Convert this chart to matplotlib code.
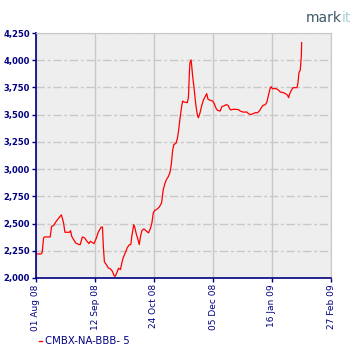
import numpy as np
import pandas as pd
import matplotlib
matplotlib.use("Agg")
import matplotlib.pyplot as plt

# days after 01 Aug 2008, index level
days = [0, 3.7, 4.4, 5.4, 6.1, 10.1, 11.1, 12.5, 14.4, 16.8, 18, 18.7, 19.6, 20.6,
        23.9, 24.6, 25.4, 26.8, 28.2, 30.6, 31.5, 33, 34.6, 36.3, 37.7, 38.7, 40.6,
        41.3, 43, 44.4, 46.3, 47.3, 48, 48.7, 50.1, 51.5, 53, 54.4, 55.6, 56.3, 57.7,
        58.7, 60.1, 61.1, 62, 63.5, 64.9, 66.3, 67.5, 68.2, 69.6, 70.4, 71.5, 72.5,
        73.5, 74.4, 75.4, 76.8, 78.2, 80.1, 81.5, 82.5, 83.5, 84.4, 85.8, 87.7, 89.4,
        90.6, 91.8, 92.9, 94.1, 95.3, 96.3, 97.3, 98.2, 99.6, 100.6, 101.3, 102.5,
        103.7, 104.4, 105.4, 107.7, 108.5, 109.2, 109.6, 110.4, 110.8, 111.5, 112.5,
        113.2, 113.9, 114.9, 115.6, 116.8, 118, 119.2, 120.6, 121.5, 122.5, 123.5,
        125.8, 126.8, 128.2, 129.2, 131.1, 132.3, 133.5, 135.4, 136.8, 137.8, 138.8,
        140.1, 141.8, 144.2, 145.4, 147.3, 150.1, 151.3, 153, 154.4, 156.1, 157.7,
        159.2, 160.4, 161.6, 163.2, 164.4, 165.6, 166.8, 167.5, 168.2, 171, 172.5,
        173.9, 176.3, 178.2, 179.1, 179.8, 180.5, 181.5, 182.9, 185.8, 186.5, 187.2,
        188.1, 188.9, 189.1]
values = [2221, 2221, 2236, 2368, 2377, 2377, 2475, 2481, 2521, 2561, 2580, 2552, 2506,
          2420, 2420, 2435, 2383, 2353, 2322, 2307, 2307, 2377, 2368, 2337, 2316, 2337,
          2322, 2316, 2368, 2423, 2466, 2469, 2276, 2147, 2123, 2092, 2083, 2061, 2021,
          2015, 2052, 2089, 2077, 2138, 2184, 2230, 2276, 2304, 2307, 2383, 2491, 2460,
          2399, 2359, 2307, 2383, 2435, 2451, 2435, 2414, 2457, 2506, 2598, 2620, 2629,
          2650, 2690, 2813, 2868, 2905, 2929, 2966, 3043, 3175, 3227, 3236, 3279, 3334,
          3463, 3579, 3625, 3616, 3610, 3656, 3886, 3978, 4003, 3954, 3855, 3748, 3656,
          3579, 3494, 3472, 3518, 3585, 3635, 3671, 3693, 3641, 3635, 3625, 3604, 3558,
          3540, 3533, 3573, 3579, 3592, 3585, 3555, 3543, 3549, 3549, 3546, 3533, 3524,
          3524, 3509, 3500, 3509, 3518, 3518, 3537, 3564, 3585, 3592, 3616, 3687, 3748,
          3757, 3739, 3739, 3727, 3708, 3702, 3687, 3678, 3656, 3687, 3717, 3748, 3748,
          3794, 3886, 3908, 4040, 4162]

tick_dates = ["2008-08-01", "2008-09-12", "2008-10-24", "2008-12-05", "2009-01-16", "2009-02-27"]
yticks = [2000, 2250, 2500, 2750, 3000, 3250, 3500, 3750, 4000, 4250]
series_name = "CMBX-NA-BBB- 5"

navy = "#000080"
dates = pd.Timestamp("2008-08-01") + pd.to_timedelta(days, unit="D")

fig = plt.figure(figsize=(3.6, 3.6), dpi=100)
ax = fig.add_axes([36 / 360, 1 - 278 / 360, 295 / 360, 245 / 360])
ax.set_facecolor("#EEEEEE")

ax.plot(dates, values, color="red", lw=0.9)

xt = pd.to_datetime(tick_dates)
ax.set_xlim(xt[0], xt[-1])
ax.set_ylim(2000, 4250)
ax.set_xticks(xt)
ax.set_xticklabels([d.strftime("%d %b %y") for d in xt], rotation=90, fontsize=6.5, color=navy)
ax.set_yticks(yticks)
ax.set_yticklabels([f"{v:,}" for v in yticks], fontsize=6, color=navy, fontweight="bold")

ax.grid(axis="x", color="#C8C8C8", lw=1, ls="-")
ax.grid(axis="y", color="#C8C8C8", lw=1, ls=(0, (6, 2, 2, 2)))
ax.set_axisbelow(True)

ax.tick_params(axis="both", colors=navy, length=3, width=1, pad=1.5)
for s in ["left", "bottom"]:
    ax.spines[s].set_color(navy)
    ax.spines[s].set_linewidth(1.2)
for s in ["top", "right"]:
    ax.spines[s].set_color("#C8C8C8")

# legend
fig.lines.append(plt.Line2D([39 / 360, 42 / 360], [1 - 341 / 360] * 2, color="red", lw=1,
                            transform=fig.transFigure))
fig.text(45 / 360, 1 - 341 / 360, series_name, fontsize=7.3, color=navy, va="center", ha="left")

# logo
fig.text(306 / 360, 1 - 18 / 360, "mark", fontsize=10, color="#3D5868", va="center", ha="left")
fig.text(342 / 360, 1 - 18 / 360, "it", fontsize=10, color="#A9D2DA", va="center", ha="left")

fig.savefig("out.png", dpi=100)
